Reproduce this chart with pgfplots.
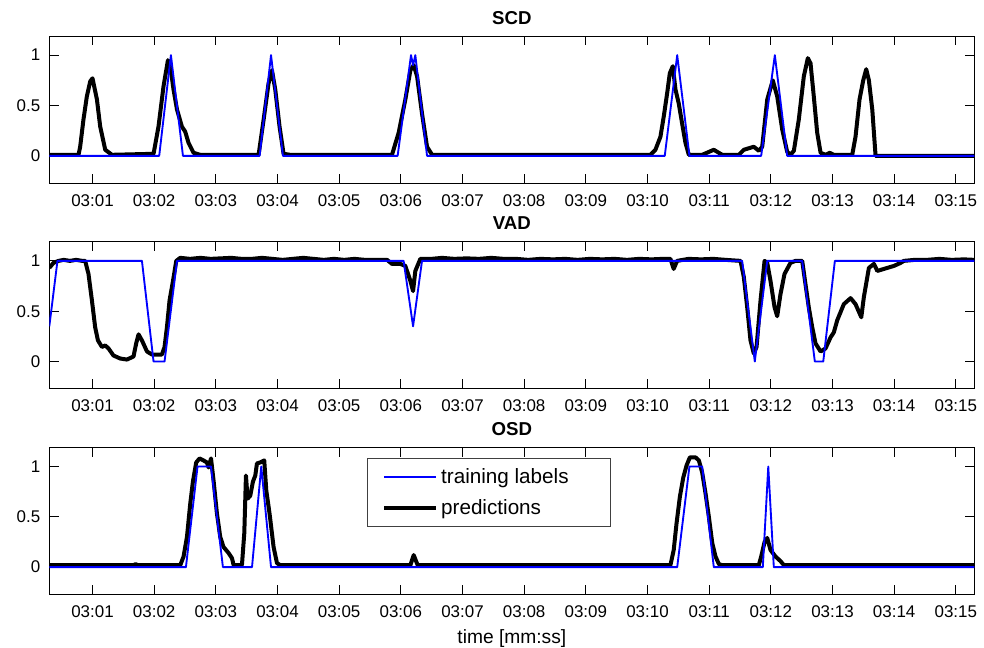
\documentclass[border=0pt]{standalone}
\usepackage{fontspec}
\setmainfont{Liberation Sans}
\usepackage{pgfplots}
\pgfplotsset{compat=1.18}

\definecolor{labblue}{rgb}{0,0,1}

% x is seconds after 03:00
\pgfplotsset{
  panel/.style={
    scale only axis, width=693.75pt, height=110.25pt,
    xmin=18, xmax=918, ymin=-0.27, ymax=1.19,
    xtick={60,120,...,900},
    xticklabels={03:01,03:02,03:03,03:04,03:05,03:06,03:07,03:08,03:09,03:10,03:11,03:12,03:13,03:14,03:15},
    ytick={0,0.5,1}, yticklabels={0,0.5,1},
    tick align=inside, xtick pos=both, ytick pos=both,
    xticklabel pos=lower, yticklabel pos=left,
    major tick length=7pt,
    axis line style={line width=0.6pt},
    every tick/.style={black, line width=0.6pt},
    tick label style={font=\fontsize{12.7}{15}\selectfont},
    xticklabel style={yshift=-5pt},
    yticklabel style={xshift=-3.3pt},
    title style={at={(0.5,1)}, anchor=base, yshift=3pt, font=\bfseries\fontsize{14}{16.8}\selectfont},
    anchor=north west,
  },
  pred/.style={black, line width=3pt, line join=round, no markers},
  lab/.style={color=labblue, line width=1.4pt, line join=round, no markers},
}

\begin{document}
\begin{tikzpicture}
\useasboundingbox (-37pt,27pt) rectangle (701pt,-458.25pt);

% ---------------- SCD
\begin{axis}[panel, at={(0,0)}, title={SCD}]
\addplot[pred] coordinates {
 (18,0.01) (46.4,0.01) (48.0,0.09) (51.2,0.36) (54.5,0.59) (57.8,0.74) (60,0.77)
 (64.3,0.56) (67.5,0.29) (72.4,0.06) (78.9,0.01) (119.4,0.02) (124.2,0.29)
 (129.1,0.69) (133.4,0.95) (135.6,0.90) (138.8,0.66) (142.2,0.46) (147.0,0.29)
 (150.2,0.24) (153.4,0.13) (158.3,0.03) (164.8,0.01) (221.6,0.01) (226.5,0.36)
 (231.3,0.72) (234.6,0.85) (237.8,0.66) (242.0,0.29) (245.9,0.02) (252.4,0.01)
 (351.4,0.01) (357.9,0.23) (364.4,0.56) (369.3,0.85) (372.5,0.90) (375.8,0.79)
 (380.6,0.42) (385.5,0.09) (390.4,0.01) (602.9,0.01) (607.7,0.06) (612.6,0.19)
 (615.8,0.39) (619.1,0.62) (621.7,0.82) (624.6,0.89) (627.2,0.66) (630.4,0.52)
 (633.7,0.32) (636.9,0.13) (640.2,0.01) (653.2,0.01) (664.5,0.06) (672.7,0.01)
 (688.8,0.01) (693.7,0.06) (703.4,0.09) (708.3,0.05) (711.6,0.09) (716.5,0.56)
 (721.9,0.75) (726.2,0.59) (731.1,0.26) (735.9,0.04) (739.1,0.01) (742.4,0.05)
 (747.2,0.36) (752.1,0.79) (756.0,0.97) (758.6,0.92) (761.8,0.59) (765.1,0.23)
 (768.4,0.03) (773.2,0.01) (777.4,0.03) (781.3,0.01) (799.2,0.01) (802.4,0.19)
 (806.3,0.56) (809.9,0.75) (812.8,0.86) (815.4,0.75) (818.7,0.46) (821.9,0.0)
 (918,0.0)
};
\addplot[lab] coordinates {
 (18,0) (124.9,0) (136.3,1) (148.0,0) (222.6,0) (233.7,1) (245.3,0)
 (356.9,0) (369.9,1) (371.9,0.9) (374.1,1) (385.5,0) (616.8,0) (628.9,1)
 (640.8,0) (710.6,0) (723.9,1) (735.9,0) (918,0)
};
\end{axis}

% ---------------- VAD
\begin{axis}[panel, at={(0,-154.3pt)}, title={VAD}]
\addplot[pred] coordinates {
 (18,0.93) (22,0.98) (27,1.0) (32,1.01) (38,1.0) (44,1.01) (50,1.0) (52.9,1.0)
 (56.1,0.87) (59.4,0.61) (62.6,0.34) (65.3,0.21) (69.2,0.145) (72.4,0.16)
 (75.6,0.13) (80.4,0.06) (87.0,0.03) (93.5,0.02) (99.9,0.05) (102.5,0.18)
 (104.8,0.27) (108.1,0.21) (113.0,0.10) (117.8,0.07) (127.6,0.07) (130.1,0.145)
 (132.4,0.34) (135.0,0.61) (138.3,0.80) (141.5,1.0) (145.4,1.03) (155,1.02)
 (165,1.03) (175,1.02) (185,1.025) (195,1.03) (205,1.02) (215,1.02) (225,1.03)
 (235,1.02) (245,1.01) (255,1.02) (265,1.03) (275,1.02) (285,1.01) (295,1.02)
 (305,1.01) (315,1.02) (325,1.01) (335,1.01) (346.6,1.01) (351.4,0.97)
 (359.5,0.97) (364.4,0.95) (369.3,0.80) (371.9,0.70) (374.1,0.90) (379.0,1.02)
 (390,1.02) (400,1.03) (412,1.02) (424,1.025) (436,1.02) (448,1.03) (460,1.02)
 (472,1.02) (484,1.01) (496,1.02) (508,1.015) (520,1.02) (532,1.01) (544,1.02)
 (556,1.015) (568,1.02) (580,1.01) (592,1.02) (604,1.015) (615,1.02)
 (622.3,1.02) (625.5,0.92) (628.8,1.0) (640,1.02) (652,1.015) (664,1.02)
 (676,1.01) (690.5,1.0) (693.7,0.84) (697.0,0.54) (700.2,0.21) (703.4,0.08)
 (706.1,0.145) (710.0,0.61) (713.9,1.0) (716.5,0.98) (719.7,0.80) (723.6,0.54)
 (726.2,0.45) (729.4,0.67) (733.3,0.87) (739.1,0.98) (744.0,1.0) (750.5,1.0)
 (753.7,0.77) (756.9,0.54) (760.3,0.34) (763.5,0.18) (768.4,0.10) (773.2,0.13)
 (778.1,0.24) (781.3,0.29) (784.6,0.41) (791.0,0.57) (797.6,0.63) (802.4,0.57)
 (808.0,0.44) (810.5,0.64) (815.4,0.93) (820.3,0.97) (823.6,0.90) (830.0,0.92)
 (839.8,0.95) (846.3,0.98) (849.4,1.0) (860,1.01) (872,1.01) (884,1.02)
 (896,1.01) (908,1.015) (918,1.01)
};
\addplot[lab] coordinates {
 (18,0.35) (25.9,1) (108.1,1) (119.4,0) (130.1,0) (142.2,1) (362.7,1)
 (371.9,0.35) (380.6,1) (692.1,1) (704.4,0) (716.5,1) (750.5,1) (762.8,0)
 (771.0,0) (782.3,1) (918,1)
};
\end{axis}

% ---------------- OSD
\begin{axis}[panel, at={(0,-308.5pt)}, title={OSD},
  xlabel={time [mm:ss]},
  xlabel style={at={(0.5,0)}, anchor=base, yshift=-37pt, font=\fontsize{14.4}{17}\selectfont},
  reverse legend,
  legend image code/.code={\draw[#1] (0pt,0pt) -- (39pt,0pt);},
  legend style={at={(0.343,0.925)}, anchor=north west, draw=black!75,
    fill=white, inner xsep=11.7pt, inner ysep=5.5pt, row sep=6.6pt,
    font=\fontsize{15.5}{18.6}\selectfont, column sep=0pt},
]
\addplot[pred] coordinates {
 (18,0.02) (100,0.02) (102,0.03) (104,0.02) (145.4,0.02) (148.6,0.105)
 (151.9,0.30) (155.1,0.63) (157.7,0.85) (160.9,1.04) (164.2,1.08) (168.0,1.06)
 (171.3,1.04) (172.9,0.99) (175.3,1.08) (177.8,0.86) (181.1,0.53) (184.3,0.30)
 (187.5,0.20) (192.4,0.14) (195.7,0.09) (197.3,0.02) (205.4,0.02) (207.7,0.34)
 (209.3,0.91) (210.9,0.68) (213.5,0.71) (216.1,0.85) (218.4,0.91) (220.0,1.03)
 (223.2,1.04) (227.1,1.06) (229.1,0.76) (232.3,0.53) (236.2,0.20) (239.5,0.04)
 (242.7,0.02) (369.3,0.02) (372.5,0.12) (376.4,0.02) (622.3,0.02) (625.5,0.17)
 (628.2,0.43) (631.5,0.70) (634.8,0.89) (638.0,1.01) (641.2,1.09) (646.8,1.09)
 (650.0,1.06) (653.2,0.94) (656.5,0.73) (659.7,0.50) (663.0,0.24) (666.2,0.105)
 (669.5,0.03) (672.7,0.02) (708.3,0.02) (710.6,0.105) (713.9,0.25) (716.5,0.29)
 (719.7,0.17) (724.6,0.105) (729.4,0.06) (732.7,0.02) (918,0.02)
};
\addlegendentry{\makebox[113pt][l]{predictions}}
\addplot[lab] coordinates {
 (18,0) (150.9,0) (162.2,1) (175.3,1) (186.9,0) (215.2,0) (224.2,1)
 (233.7,0) (628.9,0) (640.8,1) (653.2,1) (664.5,0) (712.2,0) (717.5,1)
 (722.9,0) (918,0)
};
\addlegendentry{\makebox[113pt][l]{training labels}}
\end{axis}
\end{tikzpicture}
\end{document}
